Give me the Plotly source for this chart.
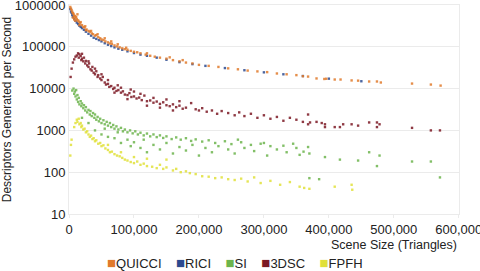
import plotly.graph_objects as go

# ---------------- data ----------------
quicci_x = [2000, 3000, 4000, 5000, 6000, 6000, 7000, 8000, 8000, 9000, 10000, 10000, 11000, 12000, 13000,
            14000, 15000, 16000, 17000, 18000, 20000, 22000, 24000, 25000, 26000, 27000, 30000, 32000, 34000,
            35000, 37000, 40000, 42000, 44000, 45000, 48000, 50000, 53000, 55000, 56000, 60000, 63000, 65000,
            66000, 70000, 74000, 75000, 78000, 82000, 86000, 88000, 90000, 95000, 100000, 105000, 110000,
            118000, 120000, 125000, 132000, 140000, 150000, 155000, 160000, 170000, 175000, 180000, 190000,
            200000, 215000, 230000, 245000, 260000, 275000, 290000, 305000, 320000, 335000, 350000, 360000,
            368000, 381000, 393000, 396000, 409000, 418000, 435000, 445000, 462000, 474000, 480000, 528000,
            557000, 572000]
quicci_y = [900000, 820000, 760000, 690000, 640000, 500000, 610000, 560000, 450000, 540000, 500000, 420000,
            520000, 460000, 600000, 430000, 400000, 330000, 370000, 390000, 330000, 300000, 290000, 310000,
            250000, 260000, 240000, 230000, 240000, 210000, 200000, 185000, 190000, 200000, 170000, 160000,
            150000, 145000, 160000, 135000, 128000, 120000, 135000, 118000, 108000, 102000, 115000, 97000,
            92000, 88000, 95000, 85000, 80000, 76000, 74000, 70000, 65000, 70000, 61000, 58000, 55000, 52000,
            56000, 48000, 45000, 48000, 42000, 40000, 37000, 35000, 33000, 30500, 29000, 27000, 25800, 24800,
            23000, 22000, 21000, 19800, 19400, 17500, 17000, 17200, 16500, 16500, 15700, 15500, 14800, 14800,
            14000, 13200, 12500, 11800]

rici_x = [2000, 3000, 4000, 5000, 6000, 8000, 10000, 12000, 14000, 16000, 18000, 20000, 23000, 26000, 30000,
          34000, 38000, 42000, 46000, 50000, 55000, 60000, 65000, 70000, 76000, 82000, 90000, 100000, 110000,
          120000, 135000, 150000, 170000, 190000, 210000, 240000, 270000, 300000, 330000, 360000, 400000, 450000]
rici_y = [800000, 700000, 650000, 580000, 520000, 470000, 420000, 380000, 350000, 320000, 300000, 280000,
          255000, 230000, 205000, 185000, 165000, 155000, 145000, 135000, 122000, 112000, 104000, 97000, 90000,
          85000, 78000, 71000, 65000, 61000, 55000, 49000, 43000, 38500, 35000, 31000, 27500, 24500, 22000,
          20000, 17300, 15000]

si_x = [5000, 7000, 8000, 9000, 10000, 11000, 12000, 13000, 14000, 15000, 16000, 18000, 19000, 20000, 22000,
        23000, 25000, 26000, 28000, 30000, 32000, 33000, 35000, 37000, 39000, 40000, 42000, 44000, 46000, 48000,
        50000, 53000, 55000, 58000, 60000, 63000, 65000, 68000, 70000, 73000, 76000, 80000, 83000, 86000,
        90000, 94000, 98000, 102000, 106000, 110000, 115000, 120000, 125000, 130000, 135000, 140000, 145000,
        150000, 158000, 165000, 172000, 180000, 188000, 195000, 205000, 215000, 225000, 240000, 250000,
        265000, 280000, 295000, 310000, 330000, 350000,
        20000, 30000, 40000, 50000, 55000, 60000, 70000, 75000, 80000, 90000, 95000, 100000, 110000, 115000,
        120000, 130000, 140000, 150000, 160000, 170000, 180000, 190000, 200000, 210000, 220000, 230000,
        245000, 255000, 260000, 270000, 285000, 300000, 305000, 320000, 335000, 345000, 355000,
        361000, 368000, 370000, 370000, 385000, 394000, 417000, 445000, 462000, 474000, 478000, 528000,
        557000, 571000]
si_y = [9000, 10000, 7500, 8500, 6500, 9200, 5500, 7000, 4800, 6000, 4200, 5000, 3800, 4400, 3400, 4000, 3000,
        3600, 2700, 3100, 2400, 2900, 2200, 2600, 2000, 2400, 1800, 2100, 1650, 1900, 1500, 1750, 1400, 1600,
        1300, 1500, 1200, 1350, 1100, 1250, 1050, 1150, 950, 1050, 900, 1000, 850, 950, 800, 880, 760, 840,
        720, 800, 690, 760, 660, 720, 620, 680, 600, 650, 560, 610, 540, 580, 500, 550, 470, 520, 450, 480,
        420, 430, 380,
        2000, 1500, 1000, 800, 1100, 700, 650, 900, 500, 600, 420, 520, 380, 600, 300, 450, 350, 500, 280,
        400, 330, 450, 250, 380, 300, 420, 350, 280, 600, 380, 320, 500, 250, 350, 300, 480, 260,
        310, 400, 280, 72, 68, 230, 200, 190, 300, 140, 250, 180, 180, 75]

dsc_x = [2500, 4000, 6000, 8000, 10000, 12000, 14000, 15000, 16000, 18000, 19000, 20000, 20000, 22000, 23000,
         25000, 26000, 28000, 30000, 30000, 31000, 33000, 35000, 36000, 38000, 40000, 40000, 42000, 44000,
         45000, 48000, 50000, 50000, 52000, 55000, 57000, 60000, 60000, 62000, 65000, 68000, 70000, 70000,
         73000, 75000, 76000, 80000, 80000, 83000, 86000, 90000, 90000, 93000, 95000, 96000, 100000, 100000,
         104000, 108000, 110000, 112000, 116000, 120000, 120000, 125000, 130000, 130000, 135000, 140000,
         140000, 145000, 150000, 150000, 155000, 160000, 160000, 165000, 170000, 170000, 175000, 180000,
         188000, 195000, 200000, 205000, 212000, 220000, 228000, 235000, 245000, 255000, 262000, 270000,
         280000, 290000, 300000, 310000, 320000, 330000, 340000, 350000, 360000, 368000, 368000, 371000,
         381000, 389000, 394000, 394000, 409000, 417000, 422000, 435000, 445000, 462000, 474000, 474000,
         478000, 528000, 557000, 571000]
dsc_y = [19000, 30000, 42000, 50000, 58000, 62000, 70000, 55000, 66000, 60000, 48000, 52000, 68000, 45000,
         55000, 40000, 46000, 36000, 33000, 45000, 40000, 29000, 27000, 33000, 24000, 22000, 30000, 26000,
         19000, 21000, 17500, 16000, 22000, 19000, 14000, 12500, 13000, 16000, 11000, 11500, 9800, 10500,
         8000, 8800, 12000, 9200, 8000, 10500, 8600, 7200, 7000, 5600, 7800, 9500, 6300, 6500, 8500, 5800,
         6100, 7500, 5300, 6800, 5000, 3900, 5200, 4600, 6000, 4900, 4300, 3500, 4700, 4000, 5500, 3800,
         4200, 3000, 3600, 3900, 5000, 3300, 3500, 4500, 3200, 3000, 3400, 2800, 3000, 2500, 2900, 2600,
         2300, 2700, 2200, 2500, 2000, 2300, 1900, 2100, 1700, 2000, 1800, 1600, 2400, 1400, 1550, 1600,
         1500, 1400, 1200, 1200, 1200, 1400, 1400, 1300, 1550, 1550, 1200, 1400, 1150, 1000, 1000]

fpfh_x = [2000, 3000, 4000, 8000, 10000, 12000, 13000, 15000, 16000, 18000, 19000, 20000, 22000, 24000,
          26000, 28000, 30000, 32000, 34000, 36000, 38000, 40000, 42000, 45000, 48000, 50000, 53000, 56000,
          60000, 60000, 63000, 66000, 70000, 74000, 78000, 80000, 82000, 86000, 90000, 95000, 100000, 100000,
          105000, 110000, 115000, 120000, 120000, 128000, 135000, 140000, 145000, 150000, 150000, 160000,
          165000, 172000, 180000, 186000, 195000, 205000, 215000, 225000, 235000, 245000, 255000, 265000,
          275000, 285000, 295000, 310000, 325000, 340000, 355000, 362000, 370000, 409000, 435000, 436000]
fpfh_y = [250, 450, 600, 1200, 1500, 1800, 1600, 1900, 1400, 1500, 1200, 1300, 1050, 1100, 900, 950, 800,
          700, 750, 620, 650, 550, 580, 480, 500, 420, 440, 370, 340, 450, 300, 310, 270, 250, 240, 300, 220,
          200, 190, 175, 165, 230, 180, 150, 160, 140, 210, 135, 125, 150, 120, 130, 200, 110, 120, 100, 105,
          95, 90, 80, 78, 72, 75, 68, 65, 70, 60, 75, 55, 62, 50, 58, 45, 42, 40, 45, 50, 38]

y_tick_vals = [10, 100, 1000, 10000, 100000, 1000000]
y_tick_text = ["10", "100", "1000", "10000", "100000", "1000000"]
x_tick_vals = [0, 100000, 200000, 300000, 400000, 500000, 600000]
x_tick_text = ["0", "100,000", "200,000", "300,000", "400,000", "500,000", "600,000"]

# draw order (RICI beneath QUICCI), legend order as in the reference
series = {
    "QUICCI": (quicci_x, quicci_y, "#e07a2c"),
    "RICI": (rici_x, rici_y, "#2b4a8f"),
    "SI": (si_x, si_y, "#6cb44c"),
    "3DSC": (dsc_x, dsc_y, "#7b1823"),
    "FPFH": (fpfh_x, fpfh_y, "#e0e03a"),
}
legend_order = ["QUICCI", "RICI", "SI", "3DSC", "FPFH"]
draw_order = ["RICI", "QUICCI", "SI", "3DSC", "FPFH"]

fig = go.Figure()
for name in draw_order:
    xs, ys, color = series[name]
    fig.add_trace(go.Scatter(
        x=xs, y=ys, name=name, mode="markers", showlegend=False,
        marker=dict(symbol="square", size=2.4, color=color, opacity=0.85, line=dict(width=0)),
    ))

legend_text = "&nbsp;&nbsp;&nbsp;&nbsp;".join(
    f'<span style="color:{series[n][2]};font-size:15px">■</span>{n}' for n in legend_order)

grid = "#ebebeb"
fig.update_layout(
    width=480, height=271,
    margin=dict(l=69, r=21, t=5, b=57, autoexpand=False),
    paper_bgcolor="white", plot_bgcolor="white",
    font=dict(family="Liberation Sans, Arial, sans-serif", size=13, color="#222"),
    showlegend=False,
    xaxis=dict(range=[0, 600300], tickvals=x_tick_vals, ticktext=x_tick_text,
               showgrid=False, showline=True, linecolor=grid, mirror=True,
               ticks="outside", ticklen=3, tickcolor=grid, zeroline=False,
               tickfont=dict(size=13), automargin=False, ticklabeloverflow="allow"),
    yaxis=dict(type="log", range=[0.9995, 6.0005], tickvals=y_tick_vals, ticktext=y_tick_text,
               showgrid=True, gridcolor=grid, showline=True, linecolor=grid, mirror=True,
               ticks="", zeroline=False, tickfont=dict(size=13), automargin=False,
               ticklabeloverflow="allow",
               title=dict(text="Descriptors Generated per Second", font=dict(size=12), standoff=6)),
    annotations=[
        dict(text="Scene Size (Triangles)", xref="paper", yref="paper", x=1, y=-0.105,
             xanchor="right", yanchor="top", showarrow=False, font=dict(size=12.5)),
        dict(text=legend_text, xref="paper", yref="paper", x=0.425, y=-0.23,
             xanchor="center", yanchor="middle", showarrow=False, font=dict(size=13)),
    ],
)

fig.write_html("out.html", config={"displayModeBar": False},
               post_script="document.body.style.margin='0';")
